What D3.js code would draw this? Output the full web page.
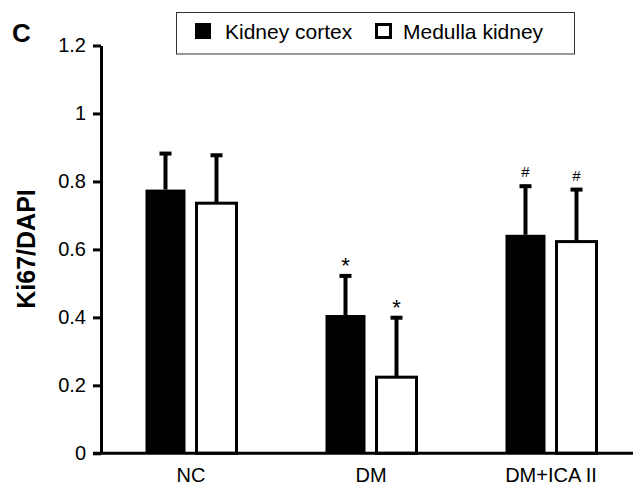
<!DOCTYPE html>
<html>
<head>
<meta charset="utf-8">
<script src="https://cdn.jsdelivr.net/npm/d3@7"></script>
<style>
  html, body { margin: 0; padding: 0; background: #fff; }
  svg { display: block; font-family: "Liberation Sans", Arial, sans-serif; }
</style>
</head>
<body>
<svg id="chart" width="633" height="487"></svg>
<script>
// ---- data ----
const categories = ["NC", "DM", "DM+ICA II"];
const series = ["Kidney cortex", "Medulla kidney"];
const cortexValues = [0.776, 0.407, 0.643];
const cortexErrors = [0.106, 0.115, 0.143];
const medullaValues = [0.736, 0.224, 0.623];
const medullaErrors = [0.141, 0.175, 0.153];
const cortexMarks = ["", "*", "#"];
const medullaMarks = ["", "*", "#"];
const yTicks = [0, 0.2, 0.4, 0.6, 0.8, 1, 1.2];
const yTickLabels = ["0", "0.2", "0.4", "0.6", "0.8", "1", "1.2"];

const rows = [];
categories.forEach((c, i) => {
  rows.push({cat: c, ser: series[0], v: cortexValues[i], e: cortexErrors[i], mark: cortexMarks[i]});
  rows.push({cat: c, ser: series[1], v: medullaValues[i], e: medullaErrors[i], mark: medullaMarks[i]});
});

const svg = d3.select("#chart");

const y = d3.scaleLinear().domain([0, 1.2]).range([453.3, 45.5]);
const x0 = d3.scaleBand().domain(categories).range([101, 641]).paddingInner(0).paddingOuter(0);
const x1 = d3.scaleBand().domain(series).range([44.5, 135.5]).paddingInner(0.216).paddingOuter(0);

// bars
const g = svg.append("g");
rows.forEach(d => {
  const bx = x0(d.cat) + x1(d.ser);
  const bw = x1.bandwidth();
  const cx = bx + bw / 2;
  const black = d.ser === series[0];
  const yTop = y(d.v + d.e);
  g.append("line")
    .attr("x1", cx).attr("x2", cx)
    .attr("y1", y(d.v)).attr("y2", yTop)
    .attr("stroke", "#000").attr("stroke-width", 4);
  g.append("line")
    .attr("x1", cx - 6).attr("x2", cx + 6)
    .attr("y1", yTop).attr("y2", yTop)
    .attr("stroke", "#000").attr("stroke-width", 4);
  if (black) {
    g.append("rect")
      .attr("x", bx).attr("y", y(d.v))
      .attr("width", bw).attr("height", y(0) - y(d.v))
      .attr("fill", "#000");
  } else {
    g.append("rect")
      .attr("x", bx).attr("y", y(d.v))
      .attr("width", bw).attr("height", y(0) - y(d.v))
      .attr("fill", "#fff").attr("stroke", "#000").attr("stroke-width", 3);
  }
  if (d.mark === "*") {
    g.append("text")
      .attr("x", cx).attr("y", yTop - 3)
      .attr("text-anchor", "middle")
      .attr("font-size", 22)
      .text("*");
  } else if (d.mark === "#") {
    g.append("text")
      .attr("x", cx).attr("y", yTop - 9)
      .attr("text-anchor", "middle")
      .attr("font-size", 15)
      .text("#");
  }
});

// y axis
const yAxis = d3.axisLeft(y)
  .tickValues(yTicks)
  .tickFormat((d, i) => yTickLabels[i])
  .tickSizeInner(8).tickSizeOuter(0).tickPadding(7);
const ya = svg.append("g").attr("transform", "translate(101,0)").call(yAxis);
ya.select(".domain").attr("stroke", "#000").attr("stroke-width", 3);
ya.selectAll(".tick line").attr("stroke", "#000").attr("stroke-width", 3);
ya.selectAll(".tick text").attr("font-size", 20).attr("fill", "#000")
  .attr("font-family", "Liberation Sans, Arial, sans-serif");

// x axis
const xAxis = d3.axisBottom(x0).tickSize(0).tickPadding(15);
const xa = svg.append("g").attr("transform", "translate(0,453.3)").call(xAxis);
xa.select(".domain").remove();
xa.append("line").attr("x1", 93).attr("x2", 641).attr("y1", 0).attr("y2", 0)
  .attr("stroke", "#000").attr("stroke-width", 3);
xa.selectAll(".tick text").attr("font-size", 20).attr("fill", "#000")
  .attr("font-family", "Liberation Sans, Arial, sans-serif");

// y label
svg.append("text")
  .attr("transform", "translate(35,249) rotate(-90)")
  .attr("text-anchor", "middle")
  .attr("font-size", 25).attr("font-weight", "bold")
  .text("Ki67/DAPI");

// panel letter
svg.append("text")
  .attr("x", 12).attr("y", 42)
  .attr("font-size", 26).attr("font-weight", "bold")
  .text("C");

// legend
const lg = svg.append("g");
lg.append("rect").attr("x", 176.5).attr("y", 12.5).attr("width", 398).attr("height", 41.5)
  .attr("fill", "#fff").attr("stroke", "#333").attr("stroke-width", 1);
lg.append("rect").attr("x", 195).attr("y", 23).attr("width", 16).attr("height", 16).attr("fill", "#000");
lg.append("text").attr("x", 225).attr("y", 38.5).attr("font-size", 21).text(series[0]);
lg.append("rect").attr("x", 376.5).attr("y", 24.5).attr("width", 14).attr("height", 13)
  .attr("fill", "#fff").attr("stroke", "#000").attr("stroke-width", 3);
lg.append("text").attr("x", 403).attr("y", 38.5).attr("font-size", 21).text(series[1]);
</script>
</body>
</html>
